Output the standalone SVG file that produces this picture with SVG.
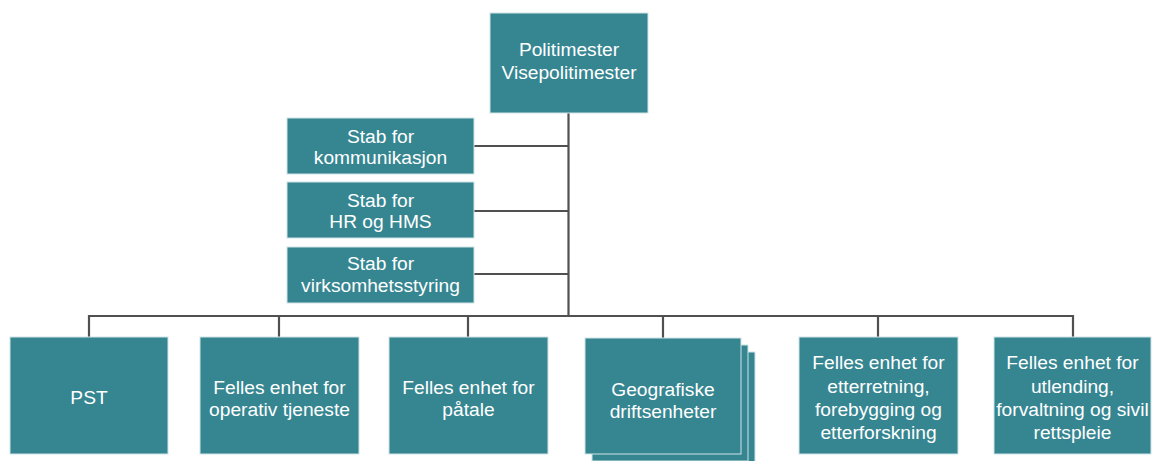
<svg xmlns="http://www.w3.org/2000/svg" width="1154" height="461" viewBox="0 0 1154 461">
<style>
.box{fill:#368692;stroke:#cfe3e6;stroke-width:1}
.t{font-family:"Liberation Sans",Arial,sans-serif;font-size:19.2px;fill:#ffffff;text-anchor:middle}
.c{stroke:#505050;stroke-width:2.2;fill:none}
</style>
<rect width="1154" height="461" fill="#ffffff"/>
<g id="connectors">
<path class="c" d="M568.5 113 V316 M474 146 H568.5 M474 211 H568.5 M474 274 H568.5"/>
<path class="c" d="M89 337 V316 H1073 V337 M279 316 V337 M468 316 V337 M663 316 V338 M878 316 V337"/>
</g>
<g id="politimester">
<rect class="box" x="490" y="13" width="158" height="100"/>
<text class="t" x="569" y="55.5">Politimester</text>
<text class="t" x="569" y="78.5">Visepolitimester</text>
</g>
<g id="stab-kommunikasjon">
<rect class="box" x="287" y="118" width="187" height="56"/>
<text class="t" x="380.5" y="142.5">Stab for</text>
<text class="t" x="380.5" y="164">kommunikasjon</text>
</g>
<g id="stab-hr">
<rect class="box" x="287" y="182" width="187" height="56"/>
<text class="t" x="380.5" y="206.5">Stab for</text>
<text class="t" x="380.5" y="228">HR og HMS</text>
</g>
<g id="stab-virksomhet">
<rect class="box" x="287" y="247" width="187" height="56"/>
<text class="t" x="380.5" y="270">Stab for</text>
<text class="t" x="380.5" y="292">virksomhetsstyring</text>
</g>
<g id="pst">
<rect class="box" x="10" y="337" width="158" height="117"/>
<text class="t" x="89" y="403.5">PST</text>
</g>
<g id="operativ">
<rect class="box" x="200" y="337" width="159" height="117"/>
<text class="t" x="279.5" y="393.5">Felles enhet for</text>
<text class="t" x="279.5" y="415.5">operativ tjeneste</text>
</g>
<g id="patale">
<rect class="box" x="389" y="337" width="159" height="117"/>
<text class="t" x="468.5" y="393.5">Felles enhet for</text>
<text class="t" x="468.5" y="415.5">påtale</text>
</g>
<g id="geografiske">
<rect class="box" x="599" y="352" width="156" height="116"/>
<rect class="box" x="592" y="345" width="156" height="116"/>
<rect class="box" x="585" y="338" width="156" height="116"/>
<text class="t" x="663" y="395.5">Geografiske</text>
<text class="t" x="663" y="417.5">driftsenheter</text>
</g>
<g id="etterretning">
<rect class="box" x="799" y="337" width="159" height="117"/>
<text class="t" x="878.5" y="368.5">Felles enhet for</text>
<text class="t" x="878.5" y="392.5">etterretning,</text>
<text class="t" x="878.5" y="415.5">forebygging og</text>
<text class="t" x="878.5" y="438.5">etterforskning</text>
</g>
<g id="utlending">
<rect class="box" x="994" y="337" width="157" height="117"/>
<text class="t" x="1072.5" y="368.5">Felles enhet for</text>
<text class="t" x="1072.5" y="392.5">utlending,</text>
<text class="t" x="1072.5" y="415.5">forvaltning og sivil</text>
<text class="t" x="1072.5" y="438.5">rettspleie</text>
</g>
</svg>
